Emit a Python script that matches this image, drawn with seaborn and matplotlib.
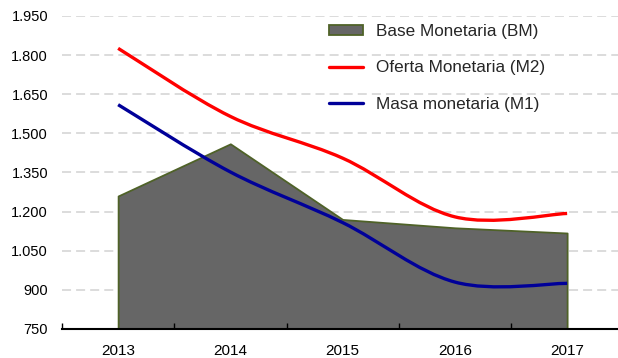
import numpy as np
import matplotlib
matplotlib.use("Agg")
import matplotlib.pyplot as plt
from matplotlib.path import Path
from matplotlib.patches import PathPatch, Patch
from matplotlib.lines import Line2D
from matplotlib.ticker import FuncFormatter
import seaborn as sns

# Monetary aggregates, 2013-2017
years = ["2013", "2014", "2015", "2016", "2017"]
base_monetaria = [1260, 1460, 1170, 1138, 1118]
oferta_m2 = [1826, 1565, 1405, 1180, 1193]
masa_m1 = [1610, 1352, 1158, 930, 925]
y_ticks = [750, 900, 1050, 1200, 1350, 1500, 1650, 1800, 1950]

series_labels = ["Base Monetaria (BM)", "Oferta Monetaria (M2)", "Masa monetaria (M1)"]
area_face, area_edge = "#666666", "#4f6228"
red, navy = "#ff0000", "#000099"

sns.set_theme(style="white")
plt.rcParams["font.family"] = ["Liberation Sans", "DejaVu Sans"]

fig = plt.figure(figsize=(6.18, 3.58), dpi=100)
ax = fig.add_axes([62 / 618, 29 / 358, 561.25 / 618, 313 / 358])
x = np.arange(len(years))


def smooth_path(xs, ys):
    """Cubic Bezier path through the points (spreadsheet-style smoothed line)."""
    pts = np.column_stack([xs, ys]).astype(float)
    n = len(pts)
    verts = [pts[0]]
    codes = [Path.MOVETO]
    for i in range(n - 1):
        prev = pts[max(i - 1, 0)]
        nxt = pts[min(i + 2, n - 1)]
        c1 = pts[i] + (pts[i + 1] - prev) / 6
        c2 = pts[i + 1] - (nxt - pts[i]) / 6
        verts += [c1, c2, pts[i + 1]]
        codes += [Path.CURVE4] * 3
    return Path(verts, codes)


# dashed horizontal gridlines
for v in y_ticks[1:]:
    ax.axhline(v, color="#d9d9d9", lw=1.3, ls=(0, (5, 2.8)), zorder=1)

# base monetaria as filled area
ax.fill_between(x, y_ticks[0], base_monetaria, facecolor=area_face,
                edgecolor=area_edge, linewidth=1.3, zorder=2)

# smoothed M2 and M1 lines
for vals, col in [(oferta_m2, red), (masa_m1, navy)]:
    ax.add_patch(PathPatch(smooth_path(x, vals), facecolor="none", edgecolor=col,
                           lw=2.4, capstyle="butt", zorder=3))

ax.set_xlim(-0.5, 4.5)
ax.set_ylim(y_ticks[0], y_ticks[-1])
ax.set_axisbelow(False)
ax.xaxis.set_zorder(5)

for side in ["top", "right", "left"]:
    ax.spines[side].set_visible(False)
ax.spines["bottom"].set_color("black")
ax.spines["bottom"].set_linewidth(1.5)
ax.spines["bottom"].set_zorder(5)

ax.set_xticks(x)
ax.set_xticklabels(years)
ax.set_xticks(np.arange(-0.5, 4.0, 1.0), minor=True)
ax.tick_params(axis="x", which="major", length=0, pad=11, labelsize=11, colors="black")
ax.tick_params(axis="x", which="minor", direction="in", length=4, width=1,
               color="black", bottom=True)
ax.set_yticks(y_ticks)
ax.yaxis.set_major_formatter(FuncFormatter(lambda v, p: f"{int(v):,}".replace(",", ".")))
ax.tick_params(axis="y", length=0, pad=10, labelsize=10.5, colors="black")

handles = [
    Patch(facecolor=area_face, edgecolor=area_edge, linewidth=1.3),
    Line2D([], [], color=red, lw=2.4),
    Line2D([], [], color=navy, lw=2.4),
]
fig.legend(handles, series_labels, loc="upper left",
           bbox_to_anchor=(329 / 618, 1 - 24 / 358), frameon=False, fontsize=12.3,
           handlelength=2.0, handleheight=0.6, handletextpad=0.75,
           labelspacing=1.25, borderpad=0, borderaxespad=0)

fig.savefig("out.png", dpi=100)
